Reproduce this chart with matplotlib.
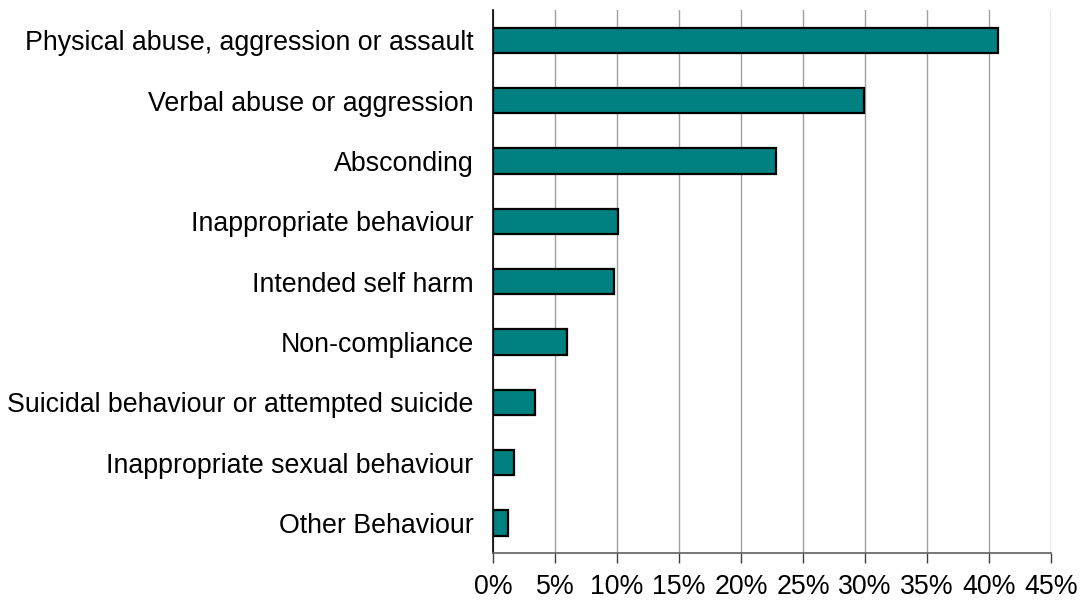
import matplotlib.pyplot as plt

# Datos del grafico
categorias = ['Physical abuse, aggression or assault', 'Verbal abuse or aggression',
              'Absconding', 'Inappropriate behaviour', 'Intended self harm',
              'Non-compliance', 'Suicidal behaviour or attempted suicide',
              'Inappropriate sexual behaviour', 'Other Behaviour']
valores = [40.7, 29.9, 22.8, 10.1, 9.8, 6.0, 3.4, 1.7, 1.2]
ticks = [0, 5, 10, 15, 20, 25, 30, 35, 40, 45]
etiquetas = [f'{t}%' for t in ticks]

plt.rcParams['font.family'] = ['Liberation Sans', 'DejaVu Sans']

fig = plt.figure(figsize=(10.82, 6.03), dpi=100)
ax = fig.add_axes([0.4556, 0.0829, 0.5157, 0.9005])

pos = range(len(categorias))
ax.barh(pos, valores, height=0.42, color='#008080', edgecolor='black', linewidth=1.6, zorder=3)

ax.set_ylim(len(categorias) - 0.5, -0.5)
ax.set_xlim(0, 45)
ax.set_yticks(list(pos))
ax.set_yticklabels(categorias, fontsize=19.3)
ax.set_xticks(ticks)
ax.set_xticklabels(etiquetas, fontsize=19.3)

ax.grid(axis='x', color='#a0a0a0', linewidth=1, zorder=0)
for s in ['top', 'right']:
    ax.spines[s].set_visible(False)
ax.spines['left'].set_color('black')
ax.spines['left'].set_linewidth(1.2)
ax.spines['bottom'].set_color('#606060')
ax.spines['bottom'].set_linewidth(1.2)
ax.tick_params(axis='y', length=0, pad=14)
ax.tick_params(axis='x', length=7, width=1, color='#404040', pad=8)

plt.savefig('out.png', dpi=100)
